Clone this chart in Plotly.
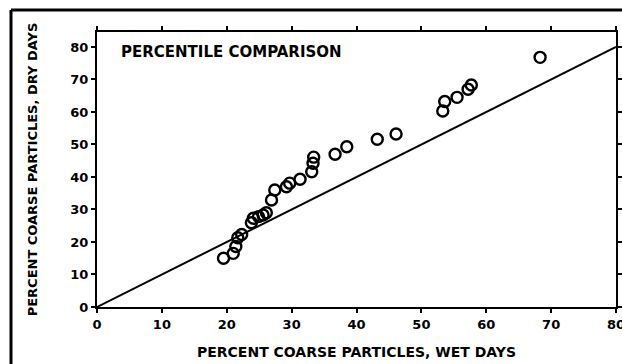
import plotly.graph_objects as go

wet_days = [19.5, 21.0, 21.4, 21.7, 22.3, 23.8, 24.1, 24.9, 25.6, 26.1, 26.9, 27.4,
            29.2, 29.7, 31.3, 33.1, 33.3, 33.4, 36.7, 38.5, 43.2, 46.1,
            53.3, 53.6, 55.5, 57.2, 57.7, 68.3]
dry_days = [15.0, 16.5, 18.6, 21.3, 22.3, 25.9, 27.3, 27.8, 28.3, 29.0, 32.9, 36.0,
            37.0, 38.1, 39.3, 41.6, 44.2, 46.1, 47.0, 49.3, 51.6, 53.2,
            60.3, 63.2, 64.5, 67.0, 68.3, 76.8]
ref_line = [0, 80]
tick_vals = [0, 10, 20, 30, 40, 50, 60, 70, 80]

W, H = 636, 364
ML, MR, MT, MB = 97, 20, 32, 57
FONT = "DejaVu Sans"

fig = go.Figure()
fig.add_trace(go.Scatter(x=ref_line, y=ref_line, mode="lines",
                         line=dict(color="black", width=2), showlegend=False,
                         cliponaxis=False))
fig.add_trace(go.Scatter(x=wet_days, y=dry_days, mode="markers",
                         marker=dict(symbol="circle-open", size=11, color="black",
                                     line=dict(width=2.4, color="black")),
                         showlegend=False))

axis_common = dict(showgrid=False, zeroline=False, showline=True, linecolor="black",
                   linewidth=2.2, mirror="allticks", ticks="outside", ticklen=4,
                   tickwidth=1.5, tickcolor="black", automargin=False,
                   tickfont=dict(family=FONT, size=13, color="black", weight="bold"))

fig.update_xaxes(range=[0, 80], tickvals=tick_vals, **axis_common,
                 title=dict(text="PERCENT COARSE PARTICLES, WET DAYS",
                            font=dict(family=FONT, size=14, color="black", weight="bold"),
                            standoff=16))
fig.update_yaxes(range=[0, 84.6], tickvals=tick_vals, **axis_common,
                 title=dict(text="PERCENT COARSE PARTICLES, DRY DAYS",
                            font=dict(family=FONT, size=13, color="black", weight="bold"),
                            standoff=30))

pw = W - ML - MR
ph = H - MT - MB

fig.add_annotation(text="PERCENTILE COMPARISON", xref="paper", yref="paper",
                   x=(119 - ML) / pw, y=(307 - 41) / ph,
                   xanchor="left", yanchor="top", showarrow=False,
                   font=dict(family=FONT, size=15, color="black", weight="bold"))

fx = (11 - ML) / pw
fy = (307 - 10) / ph
fig.add_shape(type="line", xref="paper", yref="paper", x0=fx, y0=fy, x1=1.2, y1=fy,
              line=dict(color="black", width=3))
fig.add_shape(type="line", xref="paper", yref="paper", x0=fx, y0=fy, x1=fx, y1=-0.3,
              line=dict(color="black", width=3))

fig.update_layout(width=W, height=H, margin=dict(l=ML, r=MR, t=MT, b=MB, autoexpand=False),
                  plot_bgcolor="white", paper_bgcolor="white")

fig.write_html("out.html", config={"displayModeBar": False},
               post_script="document.body.style.margin='0';document.body.style.overflow='hidden';")
